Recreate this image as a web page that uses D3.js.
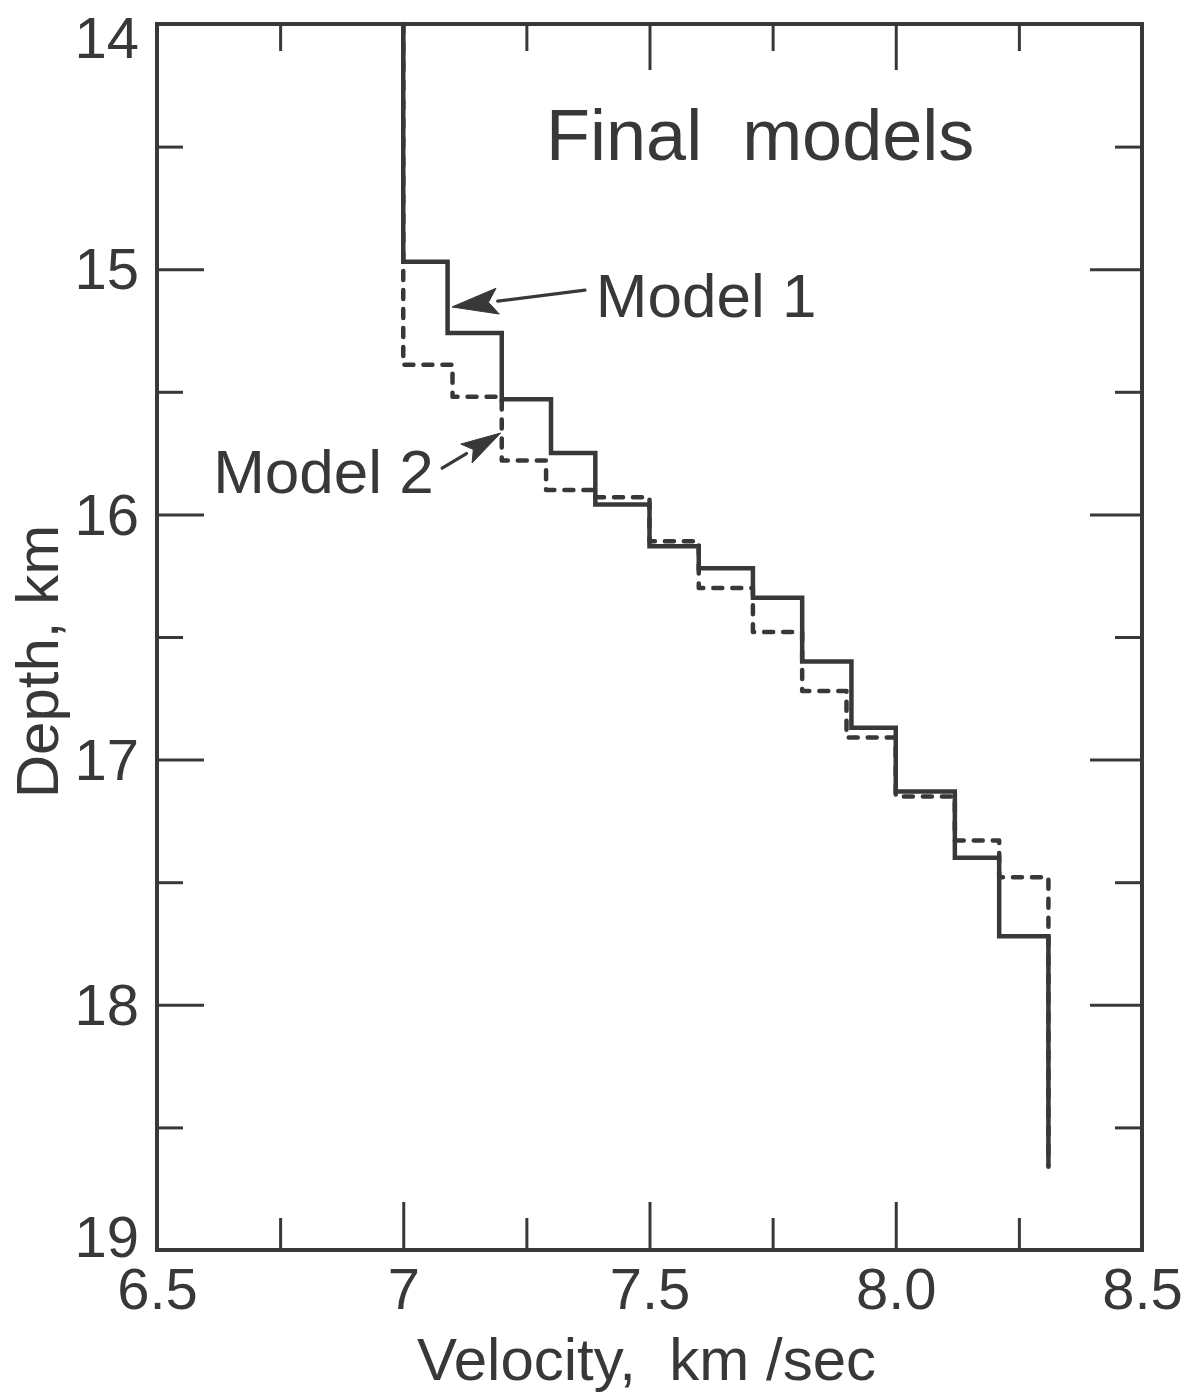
<!DOCTYPE html>
<html><head><meta charset="utf-8">
<script src="https://cdn.jsdelivr.net/npm/d3@7"></script>
<style>
body{margin:0;background:#fff}
svg{display:block}
</style>
</head><body><div id="chart"></div>
<script>
// ---------- data ----------
const xDomain = [6.5, 8.5];
const yDomain = [14, 19];
const xMajorTicks = [6.5, 7, 7.5, 8.0, 8.5];
const xMajorLabels = ["6.5", "7", "7.5", "8.0", "8.5"];
const xMinorTicks = [6.75, 7.25, 7.75, 8.25];
const yMajorTicks = [14, 15, 16, 17, 18, 19];
const yMajorLabels = ["14", "15", "16", "17", "18", "19"];
const yMinorTicks = [14.5, 15.5, 16.5, 17.5, 18.5];
const topDepth = 14;
// Model 1 (solid): layer velocity and depth of the layer bottom
const model1Velocity = [7.0, 7.09, 7.2, 7.3, 7.39, 7.5, 7.6, 7.71, 7.81, 7.91, 8.0, 8.12, 8.21, 8.31];
const model1Bottom   = [14.97, 15.26, 15.53, 15.75, 15.96, 16.13, 16.22, 16.34, 16.6, 16.87, 17.13, 17.4, 17.72, 18.66];
// Model 2 (dashed)
const model2Velocity = [7.0, 7.1, 7.2, 7.29, 7.39, 7.5, 7.6, 7.71, 7.81, 7.9, 8.0, 8.12, 8.21, 8.31];
const model2Bottom   = [15.39, 15.52, 15.78, 15.9, 15.93, 16.11, 16.3, 16.48, 16.72, 16.91, 17.15, 17.33, 17.48, 18.66];

const titleText = "Final  models";
const xTitle = "Velocity,  km /sec";
const yTitle = "Depth, km";

// ---------- chart ----------
const W = 1198, H = 1395;
const ink = "#383838";
const font = "'Liberation Sans', Arial, sans-serif";
const svg = d3.select("#chart").append("svg").attr("width", W).attr("height", H)
  .style("background", "#fff");

const x = d3.scaleLinear().domain(xDomain).range([157, 1142]);
const y = d3.scaleLinear().domain(yDomain).range([24, 1250]);

function styleAxis(g, fs) {
  g.attr("font-family", font).attr("font-size", fs).attr("color", ink);
  g.select(".domain").remove();
  g.selectAll(".tick line").attr("stroke-width", 3);
}

// bottom
svg.append("g").attr("transform", `translate(0,${y.range()[1]})`)
  .call(d3.axisBottom(x).tickValues(xMajorTicks).tickSize(-48).tickPadding(18)
    .tickFormat((d, i) => xMajorLabels[i]))
  .call(g => styleAxis(g, 58));
svg.append("g").attr("transform", `translate(0,${y.range()[1]})`)
  .call(d3.axisBottom(x).tickValues(xMinorTicks).tickSize(-32).tickFormat(""))
  .call(g => styleAxis(g, 58));
// top
svg.append("g").attr("transform", `translate(0,${y.range()[0]})`)
  .call(d3.axisTop(x).tickValues(xMajorTicks).tickSize(-46).tickFormat(""))
  .call(g => styleAxis(g, 58));
svg.append("g").attr("transform", `translate(0,${y.range()[0]})`)
  .call(d3.axisTop(x).tickValues(xMinorTicks).tickSize(-27).tickFormat(""))
  .call(g => styleAxis(g, 58));
// left
const leftAxis = svg.append("g").attr("transform", `translate(${x.range()[0]},0)`)
  .call(d3.axisLeft(y).tickValues(yMajorTicks).tickSize(-47).tickPadding(18)
    .tickFormat((d, i) => yMajorLabels[i]))
  .call(g => styleAxis(g, 58));
leftAxis.selectAll(".tick text").attr("dy", d => d === 14 ? "0.58em" : d === 19 ? "0.12em" : "0.34em");
svg.append("g").attr("transform", `translate(${x.range()[0]},0)`)
  .call(d3.axisLeft(y).tickValues(yMinorTicks).tickSize(-26).tickFormat(""))
  .call(g => styleAxis(g, 58));
// right
svg.append("g").attr("transform", `translate(${x.range()[1]},0)`)
  .call(d3.axisRight(y).tickValues(yMajorTicks).tickSize(-52).tickFormat(""))
  .call(g => styleAxis(g, 58));
svg.append("g").attr("transform", `translate(${x.range()[1]},0)`)
  .call(d3.axisRight(y).tickValues(yMinorTicks).tickSize(-27).tickFormat(""))
  .call(g => styleAxis(g, 58));

// frame
svg.append("rect")
  .attr("x", x.range()[0]).attr("y", y.range()[0])
  .attr("width", x.range()[1] - x.range()[0]).attr("height", y.range()[1] - y.range()[0])
  .attr("fill", "none").attr("stroke", ink).attr("stroke-width", 4);

// step profiles
function stepPoints(vel, bottom) {
  const pts = [];
  vel.forEach((v, i) => {
    pts.push([v, i === 0 ? topDepth : bottom[i - 1]]);
    pts.push([v, bottom[i]]);
  });
  return pts;
}
const line = d3.line().x(d => x(d[0])).y(d => y(d[1]));

svg.append("path").attr("d", line(stepPoints(model2Velocity, model2Bottom)))
  .attr("fill", "none").attr("stroke", ink).attr("stroke-width", 4.5)
  .attr("stroke-dasharray", "9,10").attr("stroke-linecap", "round").attr("stroke-linejoin", "round");
svg.append("path").attr("d", line(stepPoints(model1Velocity, model1Bottom)))
  .attr("fill", "none").attr("stroke", ink).attr("stroke-width", 4.5)
  .attr("stroke-linejoin", "miter");

// annotations
function text(str, v, d, fs, anchor) {
  svg.append("text").attr("x", x(v)).attr("y", y(d))
    .attr("font-family", font).attr("font-size", fs).attr("fill", ink)
    .attr("text-anchor", anchor || "start").style("white-space", "pre").text(str);
}
text(titleText, 7.29, 14.555, 72);
text("Model 1", 7.391, 15.195, 62);
text("Model 2", 6.614, 15.913, 62);

function arrow(v0, d0, v1, d1, headLen, headHalf) {
  const x0 = x(v0), y0 = y(d0), x1 = x(v1), y1 = y(d1);
  const ang = Math.atan2(y1 - y0, x1 - x0);
  const bx = x1 - headLen * Math.cos(ang), by = y1 - headLen * Math.sin(ang);
  svg.append("line").attr("x1", x0).attr("y1", y0).attr("x2", bx).attr("y2", by)
    .attr("stroke", ink).attr("stroke-width", 3.2).attr("stroke-linecap", "round");
  const px = -Math.sin(ang) * headHalf, py = Math.cos(ang) * headHalf;
  svg.append("polygon")
    .attr("points", [[x1, y1], [bx + px, by + py], [bx + headLen * 0.2 * Math.cos(ang), by + headLen * 0.2 * Math.sin(ang)], [bx - px, by - py]].map(p => p.join(",")).join(" "))
    .attr("fill", ink).attr("stroke", ink).attr("stroke-width", 1).attr("stroke-linejoin", "round");
}
arrow(7.369, 15.085, 7.099, 15.154, 46, 13);
arrow(7.079, 15.811, 7.198, 15.668, 40, 11);

// axis titles
svg.append("text").attr("x", (x.range()[0] + x.range()[1]) / 2 - 3).attr("y", 1380)
  .attr("text-anchor", "middle").attr("font-family", font).attr("font-size", 60)
  .attr("fill", ink).style("white-space", "pre").text(xTitle);
svg.append("text").attr("transform", `translate(58,${y(16.6)}) rotate(-90)`)
  .attr("text-anchor", "middle").attr("font-family", font).attr("font-size", 60)
  .attr("fill", ink).text(yTitle);
</script>
</body></html>
